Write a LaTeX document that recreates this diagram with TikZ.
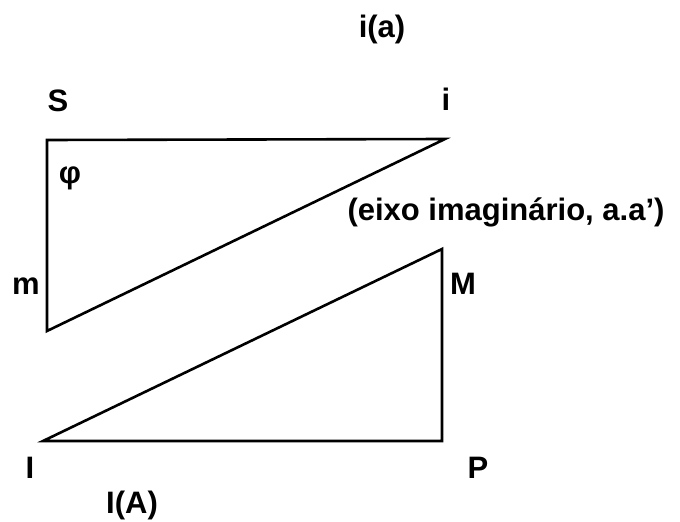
\documentclass[tikz,border=0pt]{standalone}
\usepackage{fontspec}
\setmainfont{Liberation Sans}
\usetikzlibrary{positioning}
\tikzset{lbl/.style={font=\bfseries\fontsize{31}{36}\selectfont, inner sep=0pt}}

\begin{document}
\begin{tikzpicture}[x=1pt,y=-1pt,line width=2.6pt]
      \useasboundingbox (0,0) rectangle (680,522);

      % upper triangle
      \coordinate (S) at (47,140);
      \coordinate (i) at (445,139);
      \coordinate (m) at (47,331);
      \draw[line join=miter] (m) -- (S) -- (i) -- cycle;

      % lower triangle
      \coordinate (I) at (43,441);
      \coordinate (P) at (442,441);
      \coordinate (M) at (442,249);
      \draw[line join=miter] (I) -- (P) -- (M) -- cycle;

      % labels
      \node[lbl] (ia) at (382,29) {i(a)};
      \node[lbl] (Slbl) at (58,101) {S};
      \node[lbl] (ilbl) at (446,99) {i};
      \node[lbl] (phi) at (70,178) {φ};
      \node[lbl] (eixo) at (506,212) {(eixo imaginário, a.a’)};
      \node[lbl] (mlbl) at (26,286) {m};
      \node[lbl] (Mlbl) at (463,284) {M};
      \node[lbl] (Ilbl) at (30,468) {I};
      \node[lbl] (Plbl) at (478,468) {P};
      \node[lbl] (IA) at (132,505) {I(A)};
    \end{tikzpicture}
\end{document}
